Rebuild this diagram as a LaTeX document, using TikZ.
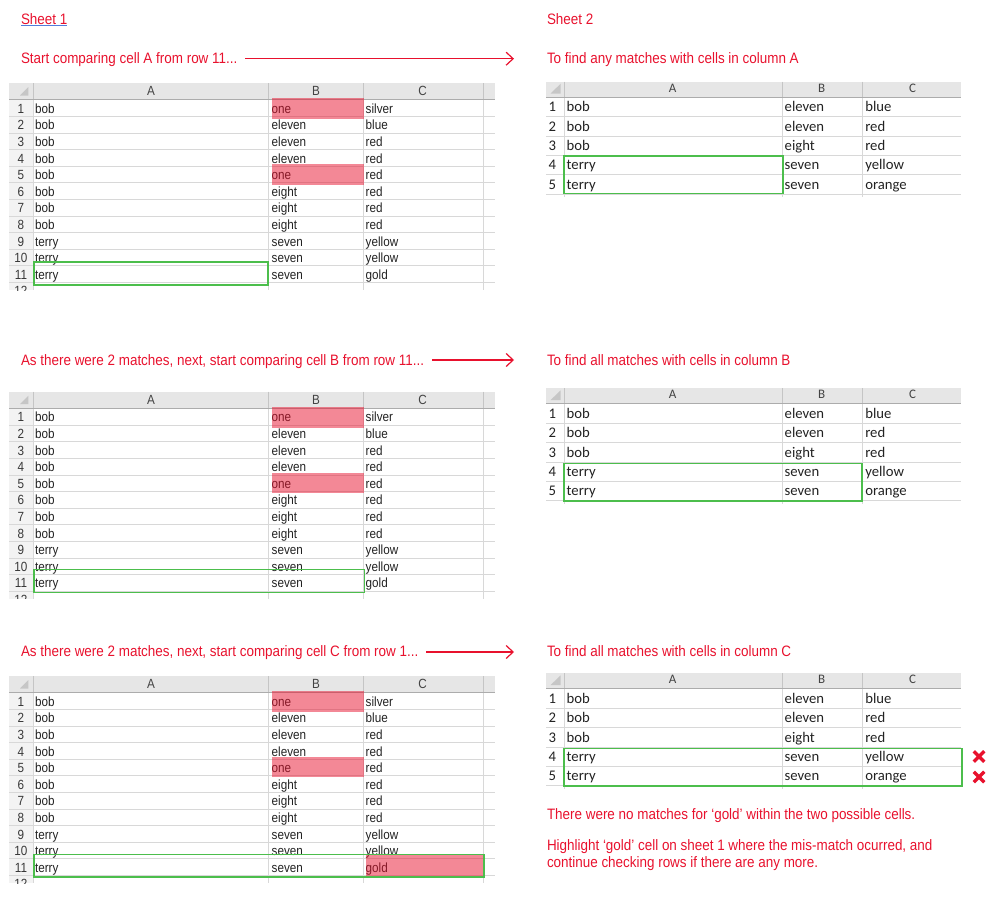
\documentclass[tikz,border=0pt]{standalone}
\usepackage{fontspec}
\usepackage{xcolor}
\setmainfont{Liberation Sans}
\newfontfamily\headfont[FakeStretch=0.89]{Liberation Sans}
\newfontfamily\xlfont[FakeStretch=0.88]{Liberation Sans}
\newfontfamily\calibri{Carlito}
\usetikzlibrary{positioning,arrows.meta,shapes.misc}

\definecolor{hlred}{RGB}{232,17,45}
\definecolor{boxgreen}{RGB}{76,190,76}
\definecolor{gridgray}{RGB}{216,216,216}
\definecolor{hdrgray}{RGB}{230,230,230}
\definecolor{hdrline}{RGB}{172,172,172}
\definecolor{numgray}{RGB}{243,243,243}
\definecolor{inkgray}{RGB}{34,34,34}
\definecolor{ulblue}{RGB}{80,125,220}

% sheet 1 table: #1 = top of header row, #2 = name prefix
\newcommand{\sheetone}[2]{%
  \begin{scope}[yshift=-#1pt]
    \fill[hdrgray] (9,0) rectangle (495,16.6);
    \fill[numgray] (9,16.6) rectangle (33,207);
    \fill[gray!45] (28.3,4) -- (28.3,12.5) -- (20,12.5) -- cycle;
    \foreach \r in {1,...,11}
      \draw[gridgray] (9,{16.6*(\r+1)}) -- (495,{16.6*(\r+1)});
    \foreach \x in {33,268.5,362.7,482.7} {
      \draw[gridgray] (\x,16.6) -- (\x,207);
      \draw[hdrline!70] (\x,0) -- (\x,16.6);
    }
    \draw[hdrline] (9,16.6) -- (495,16.6);
    \node[hdrone] (#2ha) at (151,12.7) {A};
    \node[hdrone] (#2hb) at (316,12.7) {B};
    \node[hdrone] (#2hc) at (422.7,12.7) {C};
    \foreach \a/\b/\c [count=\r] in {bob/one/silver,bob/eleven/blue,bob/eleven/red,bob/eleven/red,bob/one/red,bob/eight/red,bob/eight/red,bob/eight/red,terry/seven/yellow,terry/seven/yellow,terry/seven/gold} {
      \node[numone] (#2n\r) at (21,{16.6*(\r+1)-3}) {\r};
      \node[cellone] (#2a\r) at (35,{16.6*(\r+1)-3}) {\a};
      \node[cellone] (#2b\r) at (271.7,{16.6*(\r+1)-3}) {\b};
      \node[cellone] (#2c\r) at (365.7,{16.6*(\r+1)-3}) {\c};
    }
    \begin{scope}
      \clip (9,199.2) rectangle (33,207);
      \node[numone] (#2n12) at (21,{16.6*13-3}) {12};
    \end{scope}
  \end{scope}}

% sheet 2 table: #1 = top of header row, #2 = name prefix
\newcommand{\sheettwo}[2]{%
  \begin{scope}[yshift=-#1pt]
    \fill[hdrgray] (546,0) rectangle (961,15.3);
    \fill[gray!45] (560.7,2) -- (560.7,11.8) -- (550.5,11.8) -- cycle;
    \foreach \r in {1,...,5}
      \draw[gridgray] (546,{15.3+19.4*\r}) -- (961,{15.3+19.4*\r});
    \foreach \x in {564,782.3,862} {
      \draw[gridgray] (\x,15.3) -- (\x,{15.3+19.4*5+3});
      \draw[hdrline!70] (\x,0) -- (\x,15.3);
    }
    \draw[hdrline] (546,15.3) -- (961,15.3);
    \node[hdrtwo] (#2ha) at (672.7,10.3) {A};
    \node[hdrtwo] (#2hb) at (821.7,10.3) {B};
    \node[hdrtwo] (#2hc) at (912.7,10.3) {C};
    \foreach \a/\b/\c [count=\r] in {bob/eleven/blue,bob/eleven/red,bob/eight/red,terry/seven/yellow,terry/seven/orange} {
      \node[numtwo] (#2n\r) at (548.5,{15.3+19.4*\r-4.7}) {\r};
      \node[celltwo] (#2a\r) at (566.7,{15.3+19.4*\r-4.7}) {\a};
      \node[celltwo] (#2b\r) at (784.7,{15.3+19.4*\r-4.7}) {\b};
      \node[celltwo] (#2c\r) at (865.3,{15.3+19.4*\r-4.7}) {\c};
    }
  \end{scope}}

\begin{document}
\begin{tikzpicture}[x=1pt,y=-1pt,
    every node/.style={inner sep=0pt,outer sep=0pt},
    note/.style={font=\headfont\fontsize{15.1}{18}\selectfont,text=hlred,anchor=base west},
    cellone/.style={font=\xlfont\fontsize{13.3}{16}\selectfont,text=inkgray,anchor=base west},
    numone/.style={font=\xlfont\fontsize{13.3}{16}\selectfont,text=inkgray!90,anchor=base},
    hdrone/.style={font=\xlfont\fontsize{13.3}{16}\selectfont,text=inkgray!85,anchor=base},
    celltwo/.style={font=\calibri\fontsize{14.7}{17}\selectfont,text=inkgray,anchor=base west},
    numtwo/.style={font=\calibri\fontsize{14.7}{17}\selectfont,text=inkgray,anchor=base west},
    hdrtwo/.style={font=\calibri\fontsize{13}{16}\selectfont,text=inkgray!85,anchor=base},
    lead/.style={draw=hlred,line width=1.2pt,shorten <=8pt,-{Straight Barb[length=7pt,width=13pt,line width=1.2pt]}},
    pinkcell/.style={fill=hlred,fill opacity=0.5},
    matchbox/.style={draw=boxgreen,line width=1.6pt},
    nomatch/.style={cross out,draw=hlred,line width=3.5pt,minimum size=10.5pt}]
  \useasboundingbox (0,0) rectangle (1002,897);

  \node[note] (s1) at (21,24) {Sheet 1};
  \draw[ulblue,line width=1pt] ([yshift=-1pt]s1.base west) -- ([yshift=-1pt]s1.base east);
  \node[note] (s2) at (547,24) {Sheet 2};

  % first pass, column A
  \node[note] (t1) at (21,63.7) {Start comparing cell A from row 11...};
  \node[note] (u1) at (547,63.3) {To find any matches with cells in column A};
  \coordinate (a1) at (514,58.7);
  \draw[lead] (t1.east |- a1) -- (a1);
  \sheetone{83}{p}
  \sheettwo{81.7}{q}
  \fill[pinkcell] (271.7,98) rectangle (364.3,119);
  \fill[pinkcell] (271.7,164) rectangle (364.3,184.5);
  \draw[matchbox] (33.7,262) rectangle (268,285);
  \draw[matchbox] (563.7,155.7) rectangle (782.7,193.3);

  % second pass, column B
  \node[note] (t2) at (21,365) {As there were 2 matches, next, start comparing cell B from row 11...};
  \node[note] (u2) at (547,365) {To find all matches with cells in column B};
  \coordinate (a2) at (514,360);
  \draw[lead] (t2.east |- a2) -- (a2);
  \sheetone{391.7}{r}
  \sheettwo{388.3}{s}
  \fill[pinkcell] (271.7,406.5) rectangle (364.3,427.5);
  \fill[pinkcell] (271.7,472.5) rectangle (364.3,493);
  \draw[matchbox] (33.7,569.3) rectangle (364.3,592.3);
  \draw[matchbox] (563.7,463.3) rectangle (861.7,501);

  % third pass, column C
  \node[note] (t3) at (21,656) {As there were 2 matches, next, start comparing cell C from row 1...};
  \node[note] (u3) at (547,656) {To find all matches with cells in column C};
  \coordinate (a3) at (514,652);
  \draw[lead] (t3.east |- a3) -- (a3);
  \sheetone{676}{v}
  \sheettwo{673.3}{w}
  \fill[pinkcell] (271.7,690.8) rectangle (364.3,711.8);
  \fill[pinkcell] (271.7,756.8) rectangle (364.3,777.3);
  \fill[pinkcell] (365.7,855) rectangle (484,876);
  \draw[matchbox] (33.7,854.3) rectangle (484,877);
  \draw[matchbox] (563.7,748.3) rectangle (961.7,786);
  \node[nomatch] (x4) at (979,756.5) {};
  \node[nomatch] (x5) at (979,777) {};

  \node[note] (m1) at (547,819.3) {There were no matches for ‘gold’ within the two possible cells.};
  \node[note] (m2) at (547,850.7) {Highlight ‘gold’ cell on sheet 1 where the mis-match ocurred, and};
  \node[note] (m3) at (547,867.3) {continue checking rows if there are any more.};
\end{tikzpicture}
\end{document}
